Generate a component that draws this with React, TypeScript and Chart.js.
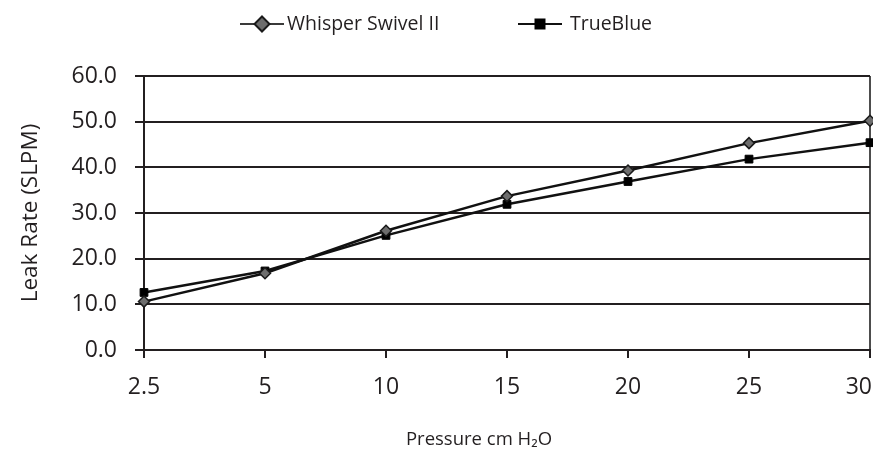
import React, { useEffect, useRef } from 'react';
import { Chart, registerables } from 'chart.js';

Chart.register(...registerables);

// ---- data ----
const categories = ['2.5', '5', '10', '15', '20', '25', '30'];
const whisperSwivel = [10.6, 16.8, 26.1, 33.7, 39.3, 45.3, 50.2];
const trueBlue = [12.6, 17.3, 25.1, 31.9, 36.9, 41.8, 45.4];
const seriesNames = ['Whisper Swivel II', 'TrueBlue'];
const yMin = 0;
const yMax = 60;
const yStep = 10;
const yAxisTitle = 'Leak Rate (SLPM)';
const xAxisTitle = 'Pressure cm H\u2082O';

const FONT = "'Open Sans', 'Noto Sans', sans-serif";
const INK = '#231f20';

function drawDiamond(ctx: CanvasRenderingContext2D, cx: number, cy: number, r: number) {
  ctx.beginPath();
  ctx.moveTo(cx, cy - r);
  ctx.lineTo(cx + r, cy);
  ctx.lineTo(cx, cy + r);
  ctx.lineTo(cx - r, cy);
  ctx.closePath();
  ctx.fillStyle = '#6d6d6d';
  ctx.fill();
  ctx.lineWidth = 2;
  ctx.strokeStyle = '#1a1a1a';
  ctx.stroke();
}

const legendPlugin = {
  id: 'customLegend',
  afterDraw(chart: any) {
    const ctx: CanvasRenderingContext2D = chart.ctx;
    const y = 24;
    const starts = [240, 518];
    const textStarts = [287, 570];
    ctx.save();
    chart.data.datasets.forEach((ds: any, i: number) => {
      const x0 = starts[i];
      const len = 44;
      ctx.beginPath();
      ctx.moveTo(x0, y);
      ctx.lineTo(x0 + len, y);
      ctx.lineWidth = 2;
      ctx.strokeStyle = i === 0 ? '#3a3a3a' : '#111';
      ctx.stroke();
      const cx = x0 + len / 2;
      if (i === 0) {
        drawDiamond(ctx, cx, y, 7.5);
      } else {
        ctx.fillStyle = '#000';
        ctx.fillRect(cx - 5.5, y - 5.5, 11, 11);
      }
      ctx.fillStyle = INK;
      ctx.font = `19.5px ${FONT}`;
      ctx.textAlign = 'left';
      ctx.textBaseline = 'middle';
      ctx.fillText(ds.label, textStarts[i], y);
    });
    ctx.restore();
  },
};

const xTitlePlugin = {
  id: 'xTitle',
  afterDraw(chart: any) {
    const ctx: CanvasRenderingContext2D = chart.ctx;
    ctx.save();
    ctx.fillStyle = INK;
    ctx.font = `18.5px ${FONT}`;
    ctx.textAlign = 'center';
    ctx.textBaseline = 'middle';
    ctx.fillText(xAxisTitle, 479, 440);
    ctx.restore();
  },
};

const lastLabelPlugin = {
  id: 'lastLabelAlign',
  beforeDraw(chart: any) {
    const sx = chart.scales.x;
    const items = sx.getLabelItems(chart.chartArea);
    const last = items[items.length - 1];
    if (last && last.options && last.options.translation) {
      last.options.textAlign = 'right';
      last.options.translation = [chart.chartArea.right + 2, last.options.translation[1]];
    }
  },
};

export default function App() {
  const canvasRef = useRef<HTMLCanvasElement | null>(null);

  useEffect(() => {
    if (!canvasRef.current) return;
    const chart = new Chart(canvasRef.current, {
      type: 'line',
      data: {
        labels: categories,
        datasets: [
          {
            label: seriesNames[0],
            data: whisperSwivel,
            borderColor: '#111',
            borderWidth: 2.5,
            pointStyle: 'rectRot',
            pointRadius: 5.5,
            pointBackgroundColor: '#6d6d6d',
            pointBorderColor: '#1a1a1a',
            pointBorderWidth: 1.5,
            tension: 0,
            fill: false,
            clip: false,
          },
          {
            label: seriesNames[1],
            data: trueBlue,
            borderColor: '#111',
            borderWidth: 2.5,
            pointStyle: 'rect',
            pointRadius: 5.5,
            pointBackgroundColor: '#000',
            pointBorderColor: '#000',
            pointBorderWidth: 1,
            tension: 0,
            fill: false,
            clip: false,
          },
        ],
      },
      options: {
        animation: false,
        responsive: true,
        maintainAspectRatio: false,
        layout: { autoPadding: false, padding: { top: 76, left: 0, right: 3, bottom: 0 } },
        plugins: {
          legend: { display: false },
          tooltip: { enabled: false },
        },
        scales: {
          x: {
            type: 'category',
            offset: false,
            border: { color: INK, width: 2 },
            grid: {
              drawOnChartArea: true,
              color: (c: any) => (c.index === categories.length - 1 ? '#4d4d4d' : 'rgba(0,0,0,0)'),
              lineWidth: 2,
              tickColor: INK,
              tickLength: 8,
              tickWidth: 2,
            },
            ticks: {
              color: INK,
              font: { family: FONT, size: 23 },
              padding: 16,
              maxRotation: 0,
              autoSkip: false,
            },
            afterFit(scale: any) {
              scale.height = 102;
              scale.paddingLeft = 0;
              scale.paddingRight = 0;
            },
          },
          y: {
            min: yMin,
            max: yMax,
            border: { color: INK, width: 2 },
            grid: {
              color: INK,
              lineWidth: 2,
              tickLength: 9,
              tickWidth: 2,
            },
            ticks: {
              stepSize: yStep,
              color: INK,
              font: { family: FONT, size: 23 },
              padding: 18,
              callback: (v: any) => Number(v).toFixed(1),
            },
            title: {
              display: true,
              text: yAxisTitle,
              color: INK,
              font: { family: FONT, size: 22.5 },
              padding: { top: 17, bottom: 0 },
            },
            afterFit(scale: any) {
              scale.width = 144;
            },
          },
        },
      },
      plugins: [legendPlugin, xTitlePlugin, lastLabelPlugin],
    });
    return () => chart.destroy();
  }, []);

  return (
    <div style={{ position: 'absolute', left: 0, top: 0, width: 873, height: 452, background: '#fff' }}>
      <canvas ref={canvasRef} />
    </div>
  );
}
